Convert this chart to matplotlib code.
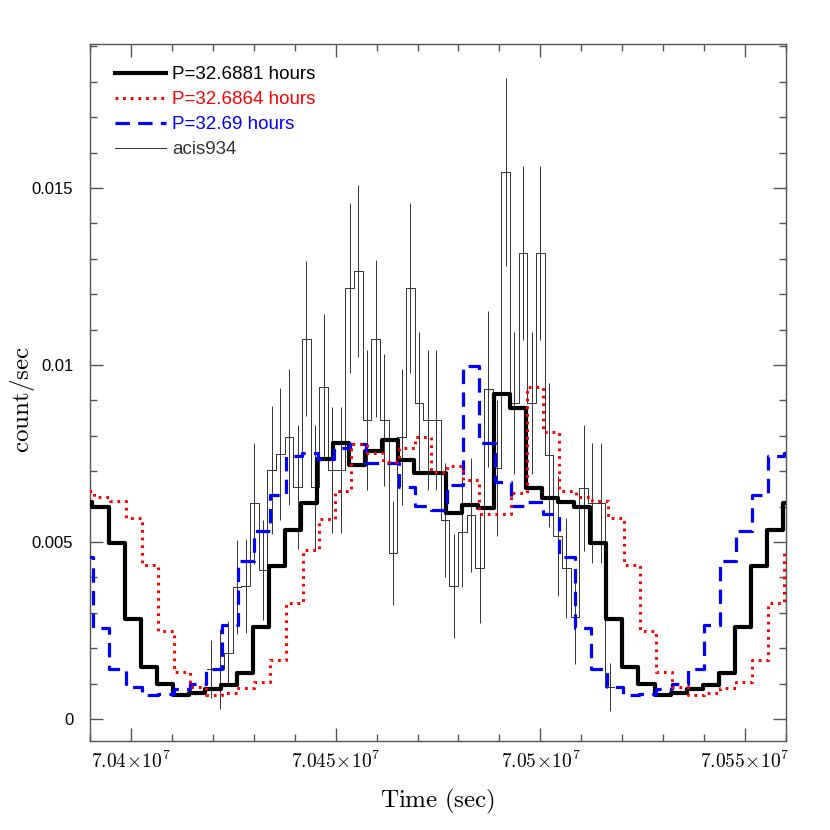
import numpy as np
import matplotlib
matplotlib.use('Agg')
import matplotlib.pyplot as plt
from matplotlib.ticker import MultipleLocator, FuncFormatter

plt.rcParams['mathtext.fontset'] = 'cm'
plt.rcParams['font.family'] = ['Liberation Sans', 'DejaVu Sans']

# binned light curve (acis934): bin centres (s), rate and 1-sigma error
data_time = [70419540, 70421658, 70423776, 70425894, 70428012, 70430130, 70432248,
             70434366, 70436484, 70438602, 70440720, 70442838, 70444956, 70447074,
             70449192, 70451310, 70453428, 70455546, 70457664, 70459782, 70461900,
             70464018, 70466136, 70468254, 70470372, 70472490, 70474608, 70476726,
             70478844, 70480962, 70483080, 70485198, 70487316, 70489434, 70491552,
             70493670, 70495788, 70497906, 70500024, 70502142, 70504260, 70506378,
             70508496, 70510614, 70512732, 70514850, 70516968]
data_bin = 2118
data_rate = [0.00141, 0.00141, 0.00188, 0.00374, 0.00376, 0.00609, 0.00421, 0.00703,
             0.00749, 0.00797, 0.00656, 0.01075, 0.00656, 0.00937, 0.00703, 0.00703,
             0.01217, 0.01266, 0.00845, 0.01075, 0.00845, 0.00468, 0.00797, 0.01217,
             0.00892, 0.00845, 0.00845, 0.00562, 0.00376, 0.00528, 0.00576, 0.00427,
             0.00932, 0.00709, 0.01545, 0.00893, 0.01316, 0.00893, 0.01316, 0.00746,
             0.00517, 0.00427, 0.00288, 0.00653, 0.00610, 0.00610, 0.00090]
data_err = [0.00082, 0.00113, 0.00090, 0.00133, 0.00133, 0.00170, 0.00141, 0.00181,
            0.00186, 0.00192, 0.00175, 0.00220, 0.00175, 0.00206, 0.00178, 0.00178,
            0.00240, 0.00243, 0.00198, 0.00223, 0.00186, 0.00147, 0.00192, 0.00240,
            0.00200, 0.00198, 0.00198, 0.00161, 0.00147, 0.00155, 0.00161, 0.00155,
            0.00220, 0.00192, 0.00266, 0.00200, 0.00246, 0.00200, 0.00246, 0.00203,
            0.00170, 0.00141, 0.00133, 0.00178, 0.00170, 0.00170, 0.00068]

# folded profiles (30 phase bins) for the three trial periods
period_hours = [32.6881, 32.6864, 32.69]
epoch = [70394520, 70402690, 70390840]
prof_6881 = [0.00496, 0.00282, 0.00148, 0.00099, 0.00068, 0.00074, 0.00084, 0.00096,
             0.00129, 0.00259, 0.00433, 0.00534, 0.00611, 0.00734, 0.00779, 0.00719,
             0.00758, 0.00788, 0.00732, 0.00696, 0.00696, 0.00583, 0.00605, 0.00597,
             0.00917, 0.00878, 0.00652, 0.00625, 0.00612, 0.00600]
prof_6864 = [0.00435, 0.00249, 0.00133, 0.00090, 0.00068, 0.00074, 0.00088, 0.00105,
             0.00167, 0.00328, 0.00477, 0.00565, 0.00644, 0.00776, 0.00752, 0.00727,
             0.00765, 0.00797, 0.00698, 0.00715, 0.00675, 0.00578, 0.00578, 0.00638,
             0.00937, 0.00812, 0.00644, 0.00628, 0.00616, 0.00567]
prof_69 = [0.00256, 0.00140, 0.00091, 0.00068, 0.00071, 0.00085, 0.00098, 0.00140,
           0.00267, 0.00447, 0.00531, 0.00632, 0.00743, 0.00752, 0.00734, 0.00765,
           0.00778, 0.00722, 0.00722, 0.00656, 0.00601, 0.00590, 0.00661, 0.00997,
           0.00779, 0.00670, 0.00603, 0.00612, 0.00578, 0.00458]
profiles = [prof_6881, prof_6864, prof_69]
labels = ['P=32.6881 hours', 'P=32.6864 hours', 'P=32.69 hours']
colors = ['black', 'red', 'blue']
styles = ['-', (0, (0.9, 1.6)), (0, (4.5, 2.6))]
widths = [3.0, 2.2, 2.3]
zorders = [3, 5, 4]

fig = plt.figure(figsize=(8.3, 8.3), dpi=100)
ax = fig.add_axes([90/830, 89/830, 696/830, 697/830])

# data: histogram steps + error bars
t = np.array(data_time, dtype=float)
edges = np.append(t - data_bin/2, t[-1] + data_bin/2)
rate = np.array(data_rate)
ax.errorbar(t, rate, yerr=data_err, fmt='none', ecolor='#333333', elinewidth=0.7,
            capsize=0, zorder=1)
hd, = ax.plot(edges, np.append(rate, rate[-1]), drawstyle='steps-post',
              color='#333333', lw=0.7, zorder=1, label='acis934')

handles = []
for ph, t0, prof, lab, c, ls, lw, zo in zip(period_hours, epoch, profiles, labels,
                                            colors, styles, widths, zorders):
    P = ph * 3600.0
    e = t0 + P * np.arange(-30, 61) / 30.0
    v = np.tile(prof, 3)
    h, = ax.plot(e, np.append(v, v[-1]), drawstyle='steps-post', color=c, ls=ls,
                 lw=lw, zorder=zo, label=lab)
    handles.append(h)
handles.append(hd)

ax.set_xlim(70390000, 70560000)
ax.set_ylim(-0.00062, 0.01907)

ax.xaxis.set_major_locator(MultipleLocator(50000))
ax.xaxis.set_minor_locator(MultipleLocator(10000))
ax.yaxis.set_major_locator(MultipleLocator(0.005))
ax.yaxis.set_minor_locator(MultipleLocator(0.001))
ax.xaxis.set_major_formatter(FuncFormatter(
    lambda v, p: r'$%s\!\times\!10^{7}$' % ('%g' % (v / 1e7))))
ax.yaxis.set_major_formatter(FuncFormatter(lambda v, p: '%g' % round(v, 6)))

for s in ax.spines.values():
    s.set_color('#555555')
    s.set_linewidth(1.0)
ax.tick_params(which='both', direction='in', top=True, right=True, color='#555555', width=1)
ax.tick_params(which='major', length=9.4)
ax.tick_params(which='minor', length=5)
ax.tick_params(axis='y', labelsize=12, pad=12)
ax.tick_params(axis='x', labelsize=14, pad=7)

ax.set_xlabel(r'$\mathrm{Time\ (sec)}$', fontsize=18)
ax.set_ylabel(r'$\mathrm{count/sec}$', fontsize=18)
ax.xaxis.set_label_coords(0.5, -0.066)
ax.yaxis.set_label_coords(-0.076, 0.49)

ax.legend(handles=handles, loc='upper left', bbox_to_anchor=(115/830, 1 - 66/830),
          bbox_transform=fig.transFigure, frameon=False, fontsize=13.5,
          handlelength=2.7, handletextpad=0.35, labelspacing=0.42, borderpad=0,
          borderaxespad=0, labelcolor='linecolor')

fig.savefig('out.png', dpi=100)
